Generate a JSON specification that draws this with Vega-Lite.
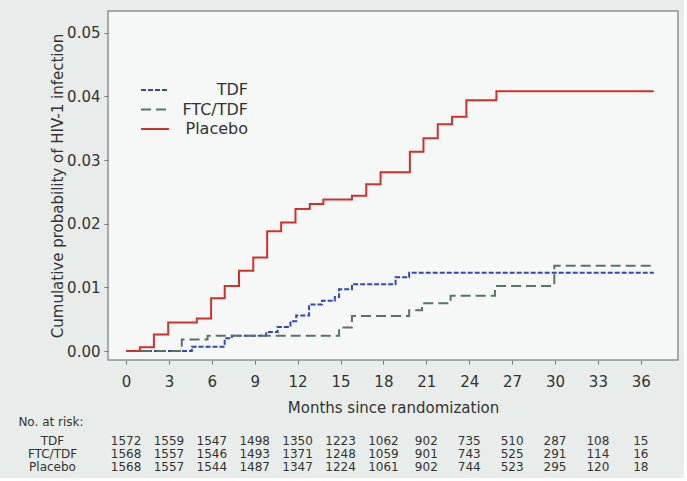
{
  "$schema": "https://vega.github.io/schema/vega-lite/v6.json",
  "background": "#e8edeb",
  "padding": {"left": 18, "top": 10, "right": 5, "bottom": 5},
  "spacing": 0,
  "config": {
    "font": "DejaVu Sans",
    "axis": {"labelColor": "#333333", "titleColor": "#333333", "tickColor": "#777777", "grid": false, "domain": false, "titleFontWeight": "normal"},
    "title": {"color": "#333333"},
    "legend": {"orient": "none", "legendX": 32, "legendY": 70, "title": null, "symbolType": "stroke", "symbolSize": 784, "labelFontSize": 16, "labelColor": "#333333", "labelAlign": "right", "labelOffset": 78, "clipHeight": 18, "rowPadding": 1.5, "padding": 0}
  },
  "datasets": {
    "curves": [
      {"group": "TDF", "month": 0, "prob": 0},
      {"group": "TDF", "month": 4.6, "prob": 0.0007},
      {"group": "TDF", "month": 6.9, "prob": 0.002},
      {"group": "TDF", "month": 7.4, "prob": 0.0024},
      {"group": "TDF", "month": 9.8, "prob": 0.003},
      {"group": "TDF", "month": 10.6, "prob": 0.0038},
      {"group": "TDF", "month": 11.5, "prob": 0.0047},
      {"group": "TDF", "month": 11.9, "prob": 0.0056},
      {"group": "TDF", "month": 12.8, "prob": 0.0073},
      {"group": "TDF", "month": 13.7, "prob": 0.0079},
      {"group": "TDF", "month": 14.6, "prob": 0.0085},
      {"group": "TDF", "month": 14.9, "prob": 0.0097},
      {"group": "TDF", "month": 15.8, "prob": 0.0105},
      {"group": "TDF", "month": 18.85, "prob": 0.0116},
      {"group": "TDF", "month": 19.8, "prob": 0.0123},
      {"group": "TDF", "month": 36.9, "prob": 0.0123},
      {"group": "FTC/TDF", "month": 0, "prob": 0},
      {"group": "FTC/TDF", "month": 3.9, "prob": 0.0018},
      {"group": "FTC/TDF", "month": 5.7, "prob": 0.0024},
      {"group": "FTC/TDF", "month": 14.9, "prob": 0.0037},
      {"group": "FTC/TDF", "month": 15.8, "prob": 0.0055},
      {"group": "FTC/TDF", "month": 19.8, "prob": 0.0064},
      {"group": "FTC/TDF", "month": 20.7, "prob": 0.0075},
      {"group": "FTC/TDF", "month": 22.7, "prob": 0.0087},
      {"group": "FTC/TDF", "month": 25.8, "prob": 0.0102},
      {"group": "FTC/TDF", "month": 29.95, "prob": 0.0134},
      {"group": "FTC/TDF", "month": 36.9, "prob": 0.0134},
      {"group": "Placebo", "month": 0, "prob": 0},
      {"group": "Placebo", "month": 0.97, "prob": 0.0006},
      {"group": "Placebo", "month": 1.95, "prob": 0.0026},
      {"group": "Placebo", "month": 2.95, "prob": 0.0045},
      {"group": "Placebo", "month": 4.95, "prob": 0.0051},
      {"group": "Placebo", "month": 5.95, "prob": 0.0083},
      {"group": "Placebo", "month": 6.9, "prob": 0.0102},
      {"group": "Placebo", "month": 7.9, "prob": 0.0126},
      {"group": "Placebo", "month": 8.9, "prob": 0.0147},
      {"group": "Placebo", "month": 9.87, "prob": 0.0188},
      {"group": "Placebo", "month": 10.85, "prob": 0.0202},
      {"group": "Placebo", "month": 11.85, "prob": 0.0223},
      {"group": "Placebo", "month": 12.85, "prob": 0.0231},
      {"group": "Placebo", "month": 13.8, "prob": 0.0238},
      {"group": "Placebo", "month": 15.8, "prob": 0.0244},
      {"group": "Placebo", "month": 16.8, "prob": 0.0262},
      {"group": "Placebo", "month": 17.8, "prob": 0.0281},
      {"group": "Placebo", "month": 19.85, "prob": 0.0313},
      {"group": "Placebo", "month": 20.8, "prob": 0.0334},
      {"group": "Placebo", "month": 21.8, "prob": 0.0356},
      {"group": "Placebo", "month": 22.8, "prob": 0.0368},
      {"group": "Placebo", "month": 23.8, "prob": 0.0394},
      {"group": "Placebo", "month": 25.9, "prob": 0.0408},
      {"group": "Placebo", "month": 36.9, "prob": 0.0408}
    ],
    "risk": [
      {"group": "TDF", "month": 0, "n": 1572},
      {"group": "TDF", "month": 3, "n": 1559},
      {"group": "TDF", "month": 6, "n": 1547},
      {"group": "TDF", "month": 9, "n": 1498},
      {"group": "TDF", "month": 12, "n": 1350},
      {"group": "TDF", "month": 15, "n": 1223},
      {"group": "TDF", "month": 18, "n": 1062},
      {"group": "TDF", "month": 21, "n": 902},
      {"group": "TDF", "month": 24, "n": 735},
      {"group": "TDF", "month": 27, "n": 510},
      {"group": "TDF", "month": 30, "n": 287},
      {"group": "TDF", "month": 33, "n": 108},
      {"group": "TDF", "month": 36, "n": 15},
      {"group": "FTC/TDF", "month": 0, "n": 1568},
      {"group": "FTC/TDF", "month": 3, "n": 1557},
      {"group": "FTC/TDF", "month": 6, "n": 1546},
      {"group": "FTC/TDF", "month": 9, "n": 1493},
      {"group": "FTC/TDF", "month": 12, "n": 1371},
      {"group": "FTC/TDF", "month": 15, "n": 1248},
      {"group": "FTC/TDF", "month": 18, "n": 1059},
      {"group": "FTC/TDF", "month": 21, "n": 901},
      {"group": "FTC/TDF", "month": 24, "n": 743},
      {"group": "FTC/TDF", "month": 27, "n": 525},
      {"group": "FTC/TDF", "month": 30, "n": 291},
      {"group": "FTC/TDF", "month": 33, "n": 114},
      {"group": "FTC/TDF", "month": 36, "n": 16},
      {"group": "Placebo", "month": 0, "n": 1568},
      {"group": "Placebo", "month": 3, "n": 1557},
      {"group": "Placebo", "month": 6, "n": 1544},
      {"group": "Placebo", "month": 9, "n": 1487},
      {"group": "Placebo", "month": 12, "n": 1347},
      {"group": "Placebo", "month": 15, "n": 1224},
      {"group": "Placebo", "month": 18, "n": 1061},
      {"group": "Placebo", "month": 21, "n": 902},
      {"group": "Placebo", "month": 24, "n": 744},
      {"group": "Placebo", "month": 27, "n": 523},
      {"group": "Placebo", "month": 30, "n": 295},
      {"group": "Placebo", "month": 33, "n": 120},
      {"group": "Placebo", "month": 36, "n": 18}
    ]
  },
  "vconcat": [
    {
      "width": 570,
      "height": 349,
      "view": {"fill": "#f6f8f8", "stroke": "#8b9094", "strokeWidth": 1.5},
      "data": {"name": "curves"},
      "mark": {"type": "line", "interpolate": "step-after"},
      "encoding": {
        "x": {
          "field": "month", "type": "quantitative",
          "scale": {"domain": [-1.26, 38.6], "nice": false, "zero": false},
          "axis": {"values": [0, 3, 6, 9, 12, 15, 18, 21, 24, 27, 30, 33, 36], "title": "Months since randomization", "tickSize": 4, "labelPadding": 10, "titlePadding": 11, "labelFontSize": 15, "titleFontSize": 15}
        },
        "y": {
          "field": "prob", "type": "quantitative",
          "scale": {"domain": [-0.0014, 0.0534], "nice": false, "zero": false},
          "axis": {"values": [0, 0.01, 0.02, 0.03, 0.04, 0.05], "format": ".2f", "title": "Cumulative probability of HIV-1 infection", "tickSize": 4, "labelPadding": 4, "titlePadding": 1, "labelFontSize": 15, "titleFontSize": 15}
        },
        "color": {
          "field": "group", "type": "nominal",
          "scale": {"domain": ["TDF", "FTC/TDF", "Placebo"], "range": ["#3346b8", "#557565", "#d0312d"]}
        },
        "strokeDash": {
          "field": "group", "type": "nominal",
          "scale": {"domain": ["TDF", "FTC/TDF", "Placebo"], "range": [[5, 2], [10, 5], [1, 0]]}
        },
        "strokeWidth": {
          "field": "group", "type": "nominal",
          "scale": {"domain": ["TDF", "FTC/TDF", "Placebo"], "range": [2, 2, 3]}
        }
      }
    },
    {
      "width": 570,
      "height": 39,
      "view": {"stroke": null, "fill": null},
      "title": {"text": "No. at risk:", "anchor": "start", "frame": "bounds", "fontSize": 12, "fontWeight": "normal", "offset": 5, "dx": -9},
      "data": {"name": "risk"},
      "mark": {"type": "text", "fontSize": 12, "color": "#333333"},
      "encoding": {
        "x": {"field": "month", "type": "quantitative", "scale": {"domain": [-1.26, 38.6], "nice": false, "zero": false}, "axis": null},
        "y": {"field": "group", "type": "nominal", "sort": ["TDF", "FTC/TDF", "Placebo"], "axis": {"title": null, "ticks": false, "labelAlign": "center", "labelPadding": 56, "labelFontSize": 12}},
        "text": {"field": "n", "type": "quantitative", "format": "d"}
      }
    }
  ]
}
